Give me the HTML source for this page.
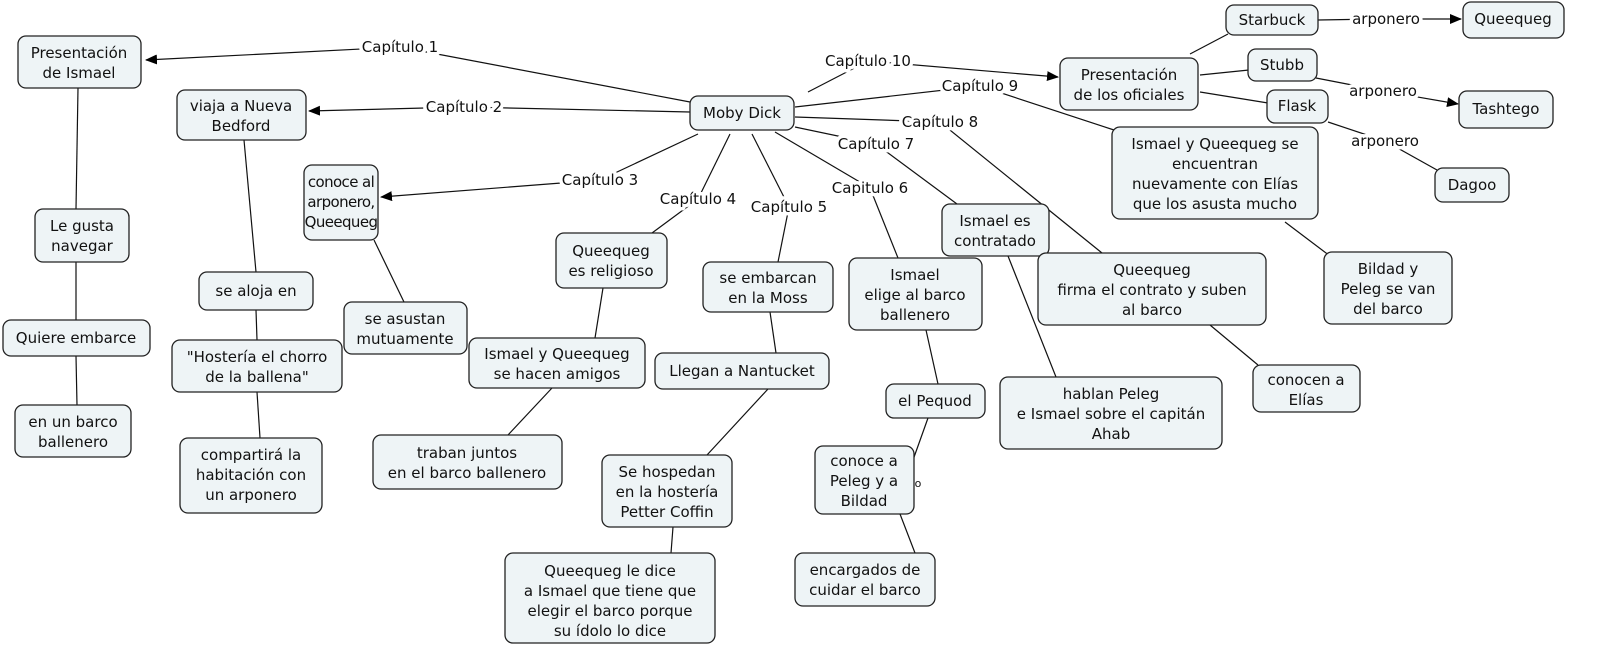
<!DOCTYPE html>
<html><head><meta charset="utf-8"><style>
html,body{margin:0;padding:0;background:#fff;width:1600px;height:660px;overflow:hidden}
svg{display:block}
text{font-family:"DejaVu Sans","Liberation Sans",sans-serif;font-size:15px;fill:#111;text-anchor:middle}
.lbl{paint-order:stroke;stroke:#fff;stroke-width:7px;stroke-linejoin:round}
.n{letter-spacing:-0.6px}
rect{fill:#eef4f6;stroke:#222;stroke-width:1.3}
line{stroke:#111;stroke-width:1.2}
</style></head><body>
<svg width="1600" height="660" viewBox="0 0 1600 660">
<defs><marker id="a" markerWidth="12" markerHeight="10" refX="11" refY="5" orient="auto" markerUnits="userSpaceOnUse"><path d="M0,0 L12,5 L0,10 z" fill="#000"/></marker></defs>
<g>
<line x1="690" y1="102" x2="400" y2="47"/><line x1="400" y1="47" x2="146" y2="60" marker-end="url(#a)"/>
<line x1="690" y1="112" x2="464" y2="107"/><line x1="464" y1="107" x2="309" y2="111" marker-end="url(#a)"/>
<line x1="698" y1="134" x2="600" y2="180"/><line x1="600" y1="180" x2="381" y2="197" marker-end="url(#a)"/>
<line x1="730" y1="134" x2="698" y2="199"/><line x1="698" y1="199" x2="652" y2="233"/>
<line x1="752" y1="134" x2="789" y2="207"/><line x1="789" y1="207" x2="778" y2="262"/>
<line x1="775" y1="132" x2="870" y2="188"/><line x1="870" y1="188" x2="898" y2="258"/>
<line x1="795" y1="127" x2="876" y2="144"/><line x1="876" y1="144" x2="957" y2="204"/>
<line x1="795" y1="117" x2="940" y2="122"/><line x1="940" y1="122" x2="1102" y2="253"/>
<line x1="795" y1="107" x2="980" y2="86"/><line x1="980" y1="86" x2="1114" y2="130"/>
<line x1="808" y1="92" x2="868" y2="61"/><line x1="868" y1="61" x2="1058" y2="77" marker-end="url(#a)"/>
<line x1="1190" y1="54" x2="1228" y2="34"/>
<line x1="1200" y1="75" x2="1249" y2="70"/>
<line x1="1200" y1="92" x2="1268" y2="103"/>
<line x1="1318" y1="20" x2="1378" y2="19"/><line x1="1378" y1="19" x2="1461" y2="19" marker-end="url(#a)"/>
<line x1="1316" y1="78" x2="1383" y2="91"/><line x1="1383" y1="91" x2="1458" y2="104" marker-end="url(#a)"/>
<line x1="1328" y1="122" x2="1385" y2="141"/><line x1="1385" y1="141" x2="1437" y2="170"/>
<line x1="78" y1="88" x2="76" y2="209"/><line x1="76" y1="262" x2="76" y2="320"/><line x1="76" y1="356" x2="77" y2="405"/>
<line x1="244" y1="140" x2="256" y2="272"/><line x1="256" y1="310" x2="257" y2="340"/><line x1="257" y1="392" x2="260" y2="438"/>
<line x1="374" y1="240" x2="404" y2="302"/>
<line x1="603" y1="288" x2="595" y2="338"/><line x1="552" y1="388" x2="508" y2="435"/>
<line x1="770" y1="312" x2="776" y2="353"/><line x1="768" y1="389" x2="707" y2="455"/><line x1="673" y1="527" x2="671" y2="553"/>
<line x1="926" y1="330" x2="938" y2="384"/><line x1="928" y1="418" x2="913" y2="460"/><line x1="900" y1="514" x2="915" y2="553"/>
<line x1="1008" y1="256" x2="1056" y2="377"/>
<line x1="1285" y1="222" x2="1330" y2="256"/>
<line x1="1210" y1="325" x2="1258" y2="365"/>
</g>
<text class="lbl" x="400" y="52">Capítulo 1</text>
<text class="lbl" x="464" y="112">Capítulo 2</text>
<text class="lbl" x="600" y="185">Capítulo 3</text>
<text class="lbl" x="698" y="204">Capítulo 4</text>
<text class="lbl" x="789" y="212">Capítulo 5</text>
<text class="lbl" x="870" y="193">Capitulo 6</text>
<text class="lbl" x="876" y="149">Capítulo 7</text>
<text class="lbl" x="940" y="127">Capítulo 8</text>
<text class="lbl" x="980" y="91">Capítulo 9</text>
<text class="lbl" x="868" y="66">Capítulo 10</text>
<text class="lbl" x="1386" y="24">arponero</text>
<text class="lbl" x="1383" y="96">arponero</text>
<text class="lbl" x="1385" y="146">arponero</text>
<rect x="18" y="36" width="123" height="52" rx="8"/><text x="79" y="58">Presentación</text><text x="79" y="78">de Ismael</text>
<rect x="177" y="90" width="129" height="50" rx="8"/><text x="241" y="111">viaja a Nueva</text><text x="241" y="131">Bedford</text>
<rect x="690" y="96" width="104" height="34" rx="8"/><text x="742" y="118">Moby Dick</text>
<rect x="304" y="165" width="74" height="75" rx="8"/><text class="n" x="341" y="187">conoce al</text><text class="n" x="341" y="207">arponero,</text><text class="n" x="341" y="227">Queequeg</text>
<rect x="35" y="209" width="94" height="53" rx="8"/><text x="82" y="231">Le gusta</text><text x="82" y="251">navegar</text>
<rect x="556" y="233" width="111" height="55" rx="8"/><text x="611" y="256">Queequeg</text><text x="611" y="276">es religioso</text>
<rect x="703" y="262" width="130" height="50" rx="8"/><text x="768" y="283">se embarcan</text><text x="768" y="303">en la Moss</text>
<rect x="849" y="258" width="133" height="72" rx="8"/><text x="915" y="280">Ismael</text><text x="915" y="300">elige al barco</text><text x="915" y="320">ballenero</text>
<rect x="942" y="204" width="107" height="52" rx="8"/><text x="995" y="226">Ismael es</text><text x="995" y="246">contratado</text>
<rect x="1038" y="253" width="228" height="72" rx="8"/><text x="1152" y="275">Queequeg</text><text x="1152" y="295">firma el contrato y suben</text><text x="1152" y="315">al barco</text>
<rect x="1112" y="127" width="206" height="92" rx="8"/><text x="1215" y="149">Ismael y Queequeg se</text><text x="1215" y="169">encuentran</text><text x="1215" y="189">nuevamente con Elías</text><text x="1215" y="209">que los asusta mucho</text>
<rect x="1324" y="252" width="128" height="72" rx="8"/><text x="1388" y="274">Bildad y</text><text x="1388" y="294">Peleg se van</text><text x="1388" y="314">del barco</text>
<rect x="1060" y="58" width="138" height="52" rx="8"/><text x="1129" y="80">Presentación</text><text x="1129" y="100">de los oficiales</text>
<rect x="1226" y="5" width="92" height="30" rx="8"/><text x="1272" y="25">Starbuck</text>
<rect x="1248" y="49" width="69" height="32" rx="8"/><text x="1282" y="70">Stubb</text>
<rect x="1267" y="90" width="61" height="33" rx="8"/><text x="1297" y="111">Flask</text>
<rect x="1463" y="2" width="101" height="36" rx="8"/><text x="1513" y="24">Queequeg</text>
<rect x="1459" y="91" width="94" height="37" rx="8"/><text x="1506" y="114">Tashtego</text>
<rect x="1435" y="168" width="74" height="34" rx="8"/><text x="1472" y="190">Dagoo</text>
<rect x="199" y="272" width="114" height="38" rx="8"/><text x="256" y="296">se aloja en</text>
<rect x="3" y="320" width="147" height="36" rx="8"/><text x="76" y="343">Quiere embarce</text>
<rect x="172" y="340" width="170" height="52" rx="8"/><text x="257" y="362">"Hostería el chorro</text><text x="257" y="382">de la ballena"</text>
<rect x="344" y="302" width="123" height="52" rx="8"/><text x="405" y="324">se asustan</text><text x="405" y="344">mutuamente</text>
<rect x="469" y="338" width="176" height="50" rx="8"/><text x="557" y="359">Ismael y Queequeg</text><text x="557" y="379">se hacen amigos</text>
<rect x="655" y="353" width="174" height="36" rx="8"/><text x="742" y="376">Llegan a Nantucket</text>
<rect x="886" y="384" width="99" height="34" rx="8"/><text x="935" y="406">el Pequod</text>
<rect x="1000" y="377" width="222" height="72" rx="8"/><text x="1111" y="399">hablan Peleg</text><text x="1111" y="419">e Ismael sobre el capitán</text><text x="1111" y="439">Ahab</text>
<rect x="1253" y="365" width="107" height="47" rx="8"/><text x="1306" y="385">conocen a</text><text x="1306" y="405">Elías</text>
<rect x="15" y="405" width="116" height="52" rx="8"/><text x="73" y="427">en un barco</text><text x="73" y="447">ballenero</text>
<rect x="180" y="438" width="142" height="75" rx="8"/><text x="251" y="460">compartirá la</text><text x="251" y="480">habitación con</text><text x="251" y="500">un arponero</text>
<rect x="373" y="435" width="189" height="54" rx="8"/><text x="467" y="458">traban juntos</text><text x="467" y="478">en el barco ballenero</text>
<rect x="602" y="455" width="130" height="72" rx="8"/><text x="667" y="477">Se hospedan</text><text x="667" y="497">en la hostería</text><text x="667" y="517">Petter Coffin</text>
<rect x="815" y="446" width="99" height="68" rx="8"/><text x="864" y="466">conoce a</text><text x="864" y="486">Peleg y a</text><text x="864" y="506">Bildad</text>
<text x="918" y="487" style="font-size:11px">o</text>
<rect x="505" y="553" width="210" height="90" rx="8"/><text x="610" y="576">Queequeg le dice</text><text x="610" y="596">a Ismael que tiene que</text><text x="610" y="616">elegir el barco porque</text><text x="610" y="636">su ídolo lo dice</text>
<rect x="795" y="553" width="140" height="53" rx="8"/><text x="865" y="575">encargados de</text><text x="865" y="595">cuidar el barco</text>
</svg>
</body></html>
